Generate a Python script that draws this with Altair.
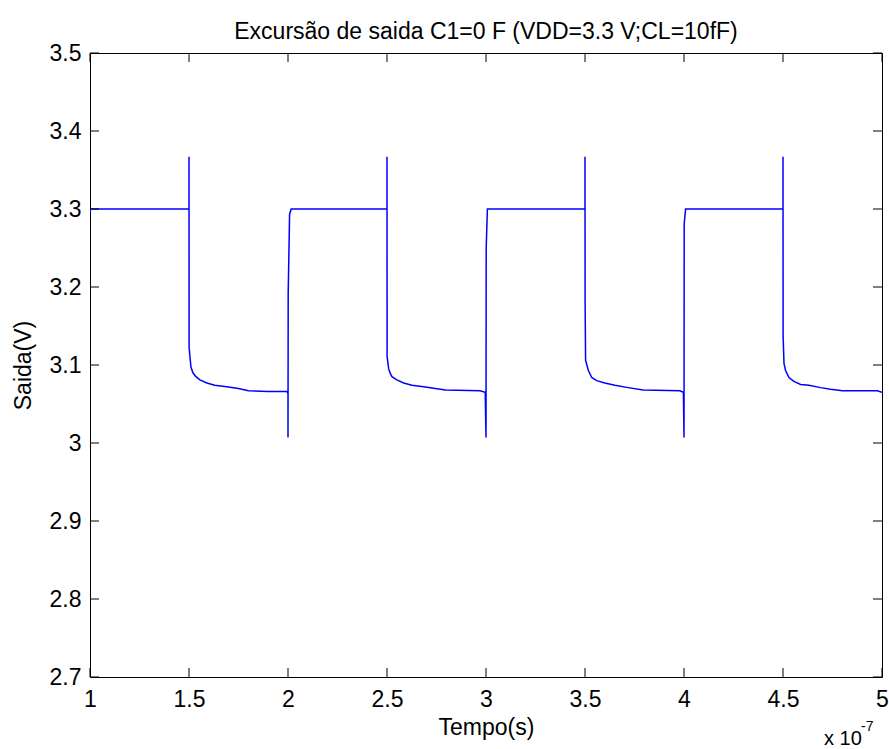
import altair as alt
import pandas as pd

# Time in units of 1e-7 s (axis shows "x 10^-7")
tempo = [
    1.000, 1.003,
    1.500, 1.500, 1.5005, 1.505, 1.510, 1.520, 1.535, 1.555, 1.590, 1.630, 1.690, 1.750, 1.800, 1.900, 1.995,
    2.000, 2.000, 2.001, 2.008, 2.016,
    2.500, 2.500, 2.5005, 2.5085, 2.517, 2.525, 2.550, 2.584, 2.626, 2.685, 2.744, 2.795, 2.970, 2.996,
    3.000, 3.001, 3.007,
    3.500, 3.500, 3.5005, 3.503, 3.517, 3.534, 3.559, 3.600, 3.651, 3.718, 3.794, 3.979, 3.997,
    4.000, 4.001, 4.008,
    4.500, 4.500, 4.5005, 4.505, 4.513, 4.530, 4.555, 4.589, 4.631, 4.690, 4.740, 4.800, 4.976, 5.000,
]
saida = [
    3.295, 3.300,
    3.300, 3.367, 3.123, 3.110, 3.097, 3.090, 3.085, 3.081, 3.077, 3.074, 3.072, 3.070, 3.067, 3.066, 3.066,
    3.063, 3.007, 3.192, 3.293, 3.300,
    3.300, 3.367, 3.111, 3.095, 3.089, 3.085, 3.081, 3.077, 3.074, 3.072, 3.070, 3.068, 3.067, 3.065,
    3.007, 3.250, 3.300,
    3.300, 3.367, 3.182, 3.106, 3.093, 3.084, 3.080, 3.077, 3.074, 3.071, 3.068, 3.067, 3.065,
    3.007, 3.281, 3.300,
    3.300, 3.367, 3.138, 3.102, 3.093, 3.084, 3.079, 3.075, 3.074, 3.071, 3.069, 3.067, 3.067, 3.065,
]
x_ticks = [1, 1.5, 2, 2.5, 3, 3.5, 4, 4.5, 5]
y_ticks = [2.7, 2.8, 2.9, 3.0, 3.1, 3.2, 3.3, 3.4, 3.5]

TITLE = "Excursão de saida C1=0 F (VDD=3.3 V;CL=10fF)"
W, H = 792, 624
TICK = 9
FONT = "Liberation Sans"
FS = 23

df = pd.DataFrame({"t": tempo, "v": saida, "i": list(range(len(tempo)))})
xt = pd.DataFrame({"t": x_ticks})
yt = pd.DataFrame({"v": y_ticks})

xscale = alt.Scale(domain=[1, 5], nice=False, zero=False)
yscale = alt.Scale(domain=[2.7, 3.5], nice=False, zero=False)

common_axis = dict(
    format="~g", grid=False, domain=False, tickSize=0,
    labelFont=FONT, labelFontSize=FS, labelColor="black",
    titleFont=FONT, titleFontSize=FS, titleFontWeight="normal", titleColor="black",
    labelFlush=False, labelOverlap=False, labelBound=False,
)
x_axis = alt.Axis(values=x_ticks, title="Tempo(s)", labelPadding=11, titlePadding=5, **common_axis)
y_axis = alt.Axis(values=y_ticks, title="Saida(V)", labelPadding=9, titlePadding=14, **common_axis)

line = alt.Chart(df).mark_line(color="#0000ff", strokeWidth=1.5, clip=True).encode(
    x=alt.X("t:Q", scale=xscale, axis=x_axis),
    y=alt.Y("v:Q", scale=yscale, axis=y_axis),
    order="i:Q",
)

bottom_ticks = alt.Chart(xt).mark_rule(color="black", strokeWidth=1).encode(
    x=alt.X("t:Q", scale=xscale, axis=x_axis), y=alt.value(H), y2=alt.value(H - TICK))
top_ticks = alt.Chart(xt).mark_rule(color="black", strokeWidth=1).encode(
    x=alt.X("t:Q", scale=xscale, axis=x_axis), y=alt.value(0), y2=alt.value(TICK))
left_ticks = alt.Chart(yt).mark_rule(color="black", strokeWidth=1).encode(
    y=alt.Y("v:Q", scale=yscale, axis=y_axis), x=alt.value(0), x2=alt.value(TICK))
right_ticks = alt.Chart(yt).mark_rule(color="black", strokeWidth=1).encode(
    y=alt.Y("v:Q", scale=yscale, axis=y_axis), x=alt.value(W - TICK), x2=alt.value(W))

exp_base = alt.Chart(pd.DataFrame({"a": [0]}))
exp_main = exp_base.mark_text(text="x 10", align="left", baseline="alphabetic",
                              dx=-58, dy=68, font=FONT, fontSize=20, color="black").encode(
    x=alt.value(W), y=alt.value(H))
exp_sup = exp_base.mark_text(text="-7", align="left", baseline="alphabetic",
                             dx=-21, dy=54, font=FONT, fontSize=14, color="black").encode(
    x=alt.value(W), y=alt.value(H))

chart = alt.layer(line, bottom_ticks, top_ticks, left_ticks, right_ticks, exp_main, exp_sup).properties(
    width=W, height=H,
    title=alt.TitleParams(TITLE, font=FONT, fontSize=FS, fontWeight="normal", color="black", offset=-2),
    padding={"left": 90, "top": 53, "right": 7, "bottom": 72},
    autosize=alt.AutoSizeParams(type="none"),
    background="white",
).configure_view(stroke="black", strokeWidth=1)

chart.save("out.html", embed_options={"renderer": "svg", "actions": False})
